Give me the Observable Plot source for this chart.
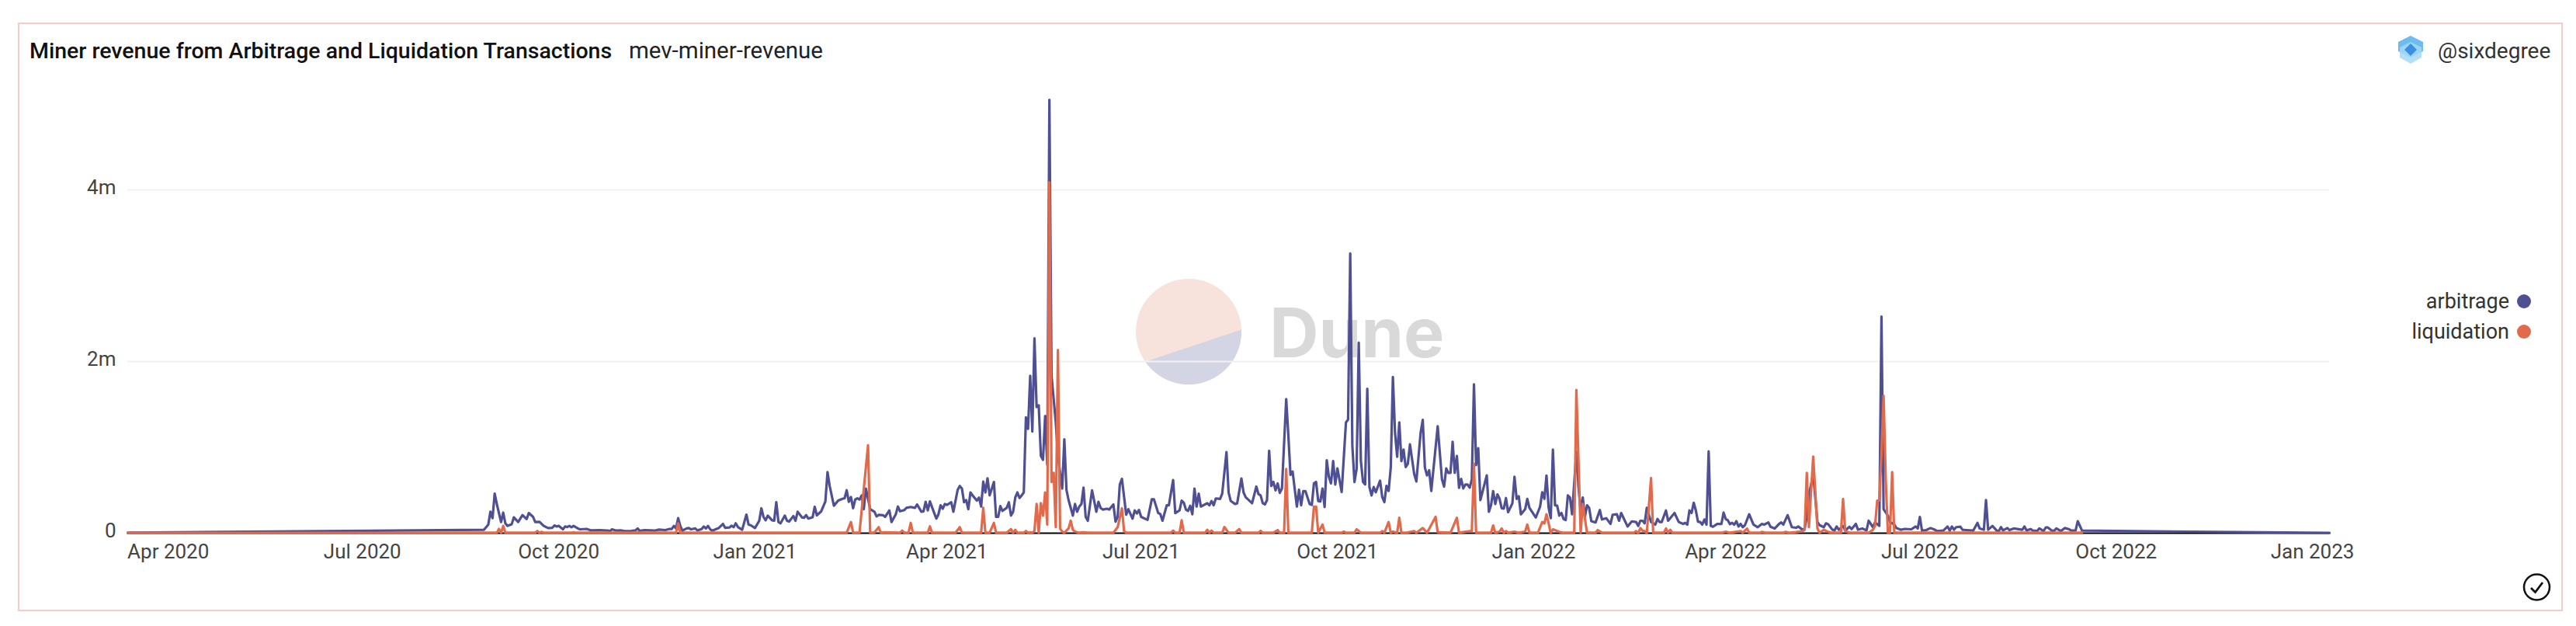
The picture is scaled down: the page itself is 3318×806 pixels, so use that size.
<!DOCTYPE html>
<html>
<head>
<meta charset="utf-8">
<script src="https://cdn.jsdelivr.net/npm/d3@7"></script>
<script src="https://cdn.jsdelivr.net/npm/@observablehq/plot@0.6"></script>
<style>
html,body{margin:0;padding:0;background:#fff;width:3318px;height:806px;overflow:hidden}
body{position:relative;font-family:Roboto,sans-serif}
#frame{position:absolute;left:23px;top:29px;width:3278px;height:758px;border:2.5px solid #f3cdc8;box-sizing:border-box}
#wm{position:absolute;left:0;top:0}
#chart{position:absolute;left:0;top:0}
.t{position:absolute;white-space:nowrap;line-height:1;transform:translateY(-50%)}
</style>
</head>
<body>
<div id="frame"></div>
<svg id="wm" width="3318" height="806">
  <circle cx="1531" cy="427" r="68" fill="#f8e2dc"/>
  <clipPath id="low"><polygon points="1400,491 1600,424 1700,380 1700,560 1400,560"/></clipPath>
  <circle cx="1531" cy="427" r="68" fill="#d3d4e4" clip-path="url(#low)"/>
  <text x="1635" y="460" font-family="Inter" font-weight="700" font-size="88" fill="#d9d9d9">Dune</text>
</svg>
<div id="chart"></div>
<div class="t" id="title" style="left:38px;top:66px;font-size:28.5px;font-weight:500;color:#111"></div>
<div class="t" id="subtitle" style="left:810px;top:66px;font-size:29.5px;color:#222"></div>
<div class="t" id="author" style="left:3140px;top:66px;font-size:28px;color:#333"></div>
<svg style="position:absolute;left:3087px;top:46px" width="36" height="36" viewBox="0 0 36 36">
  <polygon points="18,0 34,8 34,20 18,28 2,20 2,8" fill="#6cbcf0"/>
  <polygon points="18,8 32,15 32,28 18,36 4,28 4,15" fill="#a5d8f7" opacity=".85"/>
  <polygon points="18,10 26,18 18,26 10,18" fill="#3a8fe0"/>
</svg>
<div id="legend"></div>
<svg style="position:absolute;left:3248px;top:737px" width="40" height="40" viewBox="0 0 40 40">
  <circle cx="19.5" cy="19" r="16.5" fill="none" stroke="#111" stroke-width="2.5"/>
  <path d="M12 20 L17.5 25.5 L27 13" fill="none" stroke="#111" stroke-width="2.8"/>
</svg>
<script>
const titleText = "Miner revenue from Arbitrage and Liquidation Transactions";
const subtitleText = "mev-miner-revenue";
const authorText = "@sixdegree";
const seriesNames = ["arbitrage", "liquidation"];
const seriesColors = ["#4e5093", "#e2694a"];
const firstDay = Date.UTC(2020, 3, 1);
const xTickLabels = ["Apr 2020","Jul 2020","Oct 2020","Jan 2021","Apr 2021","Jul 2021","Oct 2021","Jan 2022","Apr 2022","Jul 2022","Oct 2022","Jan 2023"];
const yTicks = [0, 2000000, 4000000];

// [days since 2020-04-01, revenue in thousands]
const arbitrage = [[-19,5],[148,40],[150,100],[151,250],[152,175],[153,460],[154,340],[155,235],[156,130],[157,240],[158,115],[159,85],[161,105],[162,185],[164,130],[166,210],[168,165],[169,235],[171,190],[172,130],[174,133],[176,85],[178,60],[180,63],[181,90],[182,78],[183,85],[185,45],[186,78],[187,72],[188,85],[189,70],[190,85],[192,55],[193,45],[196,50],[198,33],[202,36],[204,33],[206,30],[207,25],[208,45],[210,30],[212,33],[214,25],[217,27],[219,33],[220,55],[221,27],[223,36],[226,33],[228,30],[230,42],[233,36],[235,50],[236,48],[237,85],[238,55],[239,175],[240,85],[241,30],
[243,55],[244,60],[245,45],[247,55],[248,33],[250,48],[251,78],[252,55],[253,85],[254,45],[255,30],[257,50],[258,60],[260,108],[261,63],[263,66],[264,87],[265,70],[266,115],[267,72],[269,40],[271,217],[272,100],[273,93],[275,60],[277,145],[278,290],[279,190],[280,150],[281,205],[283,150],[284,145],[285,362],[286,130],[287,115],[289,205],[290,145],[291,135],[293,200],[294,145],[295,250],[297,185],[298,180],[299,210],[300,170],[302,185],[303,308],[304,208],[306,253],[308,370],[309,712],[310,552],[312,320],[314,380],[316,400],[317,407],[318,500],[319,365],[320,422],[321,290],[322,392],[323,407],[324,392],[325,440],[326,280],[327,520],[329,280],[331,250],[332,195],[333,213],[335,210],[336,190],
[338,265],[339,130],[341,220],[342,310],[343,255],[345,270],[346,295],[348,305],[350,295],[351,335],[353,250],[354,255],[355,365],[356,265],[357,370],[360,170],[361,220],[362,325],[363,285],[364,340],[365,330],[367,360],[368,250],[370,505],[371,550],[372,520],[373,360],[374,385],[375,280],[376,475],[377,440],[379,380],[380,415],[381,310],[382,600],[383,475],[384,640],[385,440],[387,597],[388,190],[389,190],[390,315],[391,260],[393,295],[394,360],[395,205],[396,250],[397,415],[398,475],[399,410],[400,440],[401,475],[402,1350],[403,1215],[404,1835],[405,1185],[406,2270],[407,1470],[408,1490],[409,900],[410,855],[411,1365],[412,800],[413,5050],[414,1835],[416,1290],[417,900],[419,520],[420,1095],[421,505],[422,385],[424,205],[425,340],[426,250],[427,310],[428,340],[429,530],[430,190],
[431,145],[433,500],[435,250],[436,365],[437,295],[438,275],[440,285],[441,275],[443,335],[444,135],[445,190],[446,567],[447,633],[449,215],[450,280],[452,170],[453,265],[454,230],[455,270],[456,190],[459,155],[461,395],[462,395],[464,235],[465,223],[466,145],[468,325],[469,325],[471,620],[472,235],[474,265],[475,380],[476,355],[477,275],[478,260],[479,320],[480,220],[481,520],[482,310],[483,460],[484,310],[487,350],[488,325],[489,375],[490,325],[491,405],[493,400],[494,460],[496,945],[497,475],[498,375],[500,340],[501,347],[503,637],[504,475],[505,420],[508,350],[510,543],[511,455],[512,440],[513,350],[514,335],[515,385],[516,960],[517,550],[518,597],[519,500],[520,580],[521,470],[522,520],[524,1563],[525,1140],
[526,680],[527,718],[529,310],[530,507],[531,325],[532,490],[533,490],[535,340],[536,330],[537,580],[538,597],[539,375],[540,370],[541,520],[542,305],[543,850],[544,658],[545,580],[546,840],[547,567],[548,755],[550,480],[552,1290],[553,1325],[554,3260],[555,1020],[556,597],[557,748],[558,2220],[559,840],[560,597],[561,567],[562,1683],[563,537],[564,440],[565,537],[566,477],[568,612],[569,422],[570,362],[571,552],[572,492],[573,763],[574,1820],[575,1170],[576,890],[577,1290],[578,840],[579,975],[580,770],[581,808],[582,1035],[584,688],[585,603],[587,1170],[588,1320],[589,763],[590,673],[591,733],[592,492],[595,1246],[597,628],[598,543],[599,754],[600,703],[601,703],[602,1065],[603,703],[604,900],[605,528],[606,633],[607,522],[608,567],[609,567],[610,531],[611,628],[612,1735],[613,793],[614,990],[615,386],[618,673],[619,250],
[620,325],[621,490],[622,340],[623,452],[624,400],[625,290],[626,287],[627,410],[628,245],[630,347],[631,658],[632,400],[633,430],[634,220],[636,280],[637,400],[638,295],[641,183],[643,310],[644,477],[645,400],[646,672],[647,295],[648,175],[649,975],[650,325],[651,320],[652,205],[653,235],[654,165],[655,153],[656,440],[657,415],[658,220],[660,950],[661,537],[662,265],[663,416],[664,190],[665,325],[666,295],[667,140],[669,125],[671,270],[672,160],[674,175],[676,108],[677,215],[679,220],[680,145],[681,235],[684,78],[686,138],[688,130],[689,85],[690,145],[691,145],[692,115],[693,295],[695,130],[697,100],[698,165],[699,130],[700,130],[702,265],[703,145],[706,235],[708,130],[710,108],[711,120],[712,100],[713,265],[714,235],[715,355],
[716,265],[717,135],[718,130],[719,100],[720,160],[721,100],[722,953],[723,85],[724,75],[726,108],[728,108],[729,240],[730,165],[731,150],[732,105],[733,120],[734,100],[735,140],[736,78],[737,108],[738,70],[739,93],[741,220],[743,100],[745,70],[747,108],[748,100],[750,125],[751,75],[753,55],[755,108],[756,125],[757,100],[759,210],[761,70],[763,63],[764,78],[766,40],[767,55],[768,190],[769,445],[771,688],[773,130],[774,93],[776,70],[777,115],[778,105],[780,40],[781,33],[782,78],[783,40],[785,85],[786,30],[788,75],[789,48],[791,108],[792,40],[794,55],[796,33],[797,145],[799,70],[800,125],[802,85],[803,2525],[804,280],[806,205],[807,130],[809,100],
[810,60],[812,40],[814,50],[817,45],[819,78],[820,55],[821,190],[822,30],[824,36],[826,60],[828,40],[829,25],[832,30],[834,78],[835,30],[836,78],[837,40],[838,70],[840,75],[841,40],[843,36],[846,30],[848,120],[849,55],[851,40],[852,385],[853,40],[855,85],[857,30],[858,25],[859,70],[860,33],[862,60],[863,36],[865,55],[869,40],[870,78],[871,33],[873,48],[874,30],[876,27],[877,55],[879,25],[880,66],[881,66],[883,27],[884,30],[885,55],[887,25],[889,60],[891,45],[892,30],[894,33],[895,140],[897,30],[1013,3]];

const liquidation = [[-19,3],[147,5],[154,5],[155,50],[156,5],[157,85],[158,5],[172,5],[173,25],[174,5],[175,15],[176,5],[189,5],[190,12],[191,5],[219,5],[220,12],[221,5],[238,5],[239,115],[240,5],[318,5],[320,130],[321,5],[324,5],[328,1025],[329,5],[331,8],[333,70],[334,5],[336,10],[343,5],
[344,30],[345,5],[347,8],[348,120],[349,5],[356,5],[357,80],[358,5],[369,5],[371,70],[372,5],[381,5],[382,295],[383,5],[385,5],[387,120],[388,5],[393,5],[395,48],[396,3],[397,40],[398,5],[401,5],[402,25],[403,5],[404,10],[405,5],[406,25],[407,340],[408,5],[409,350],[410,205],[411,475],[412,100],[413,4090],[414,597],[415,703],[416,70],[417,2136],[418,55],[419,18],[420,5],[422,55],[423,145],[424,40],[425,18],[427,5],[429,10],[431,5],
[443,5],[445,70],[447,290],[448,25],[449,5],[470,5],[471,30],[472,5],[474,5],[475,150],[476,5],[486,5],[487,40],[488,5],[489,30],[490,5],[494,5],[495,72],[497,5],[500,5],[502,48],[503,5],[511,5],[512,27],[513,5],[518,5],[520,36],[521,5],[523,5],[524,748],[525,5],
[536,5],[537,310],[538,310],[539,5],[541,100],[542,5],[550,5],[551,18],[552,5],[556,5],[557,45],[559,5],[568,5],[569,24],[570,5],[572,130],[573,5],[574,18],[576,5],[577,180],[578,5],[580,5],[584,24],[585,5],[588,60],[590,5],[594,190],[595,12],[601,5],[604,180],[605,5],[610,24],[611,24],[612,808],[613,5],[619,5],
[620,5],[621,90],[622,5],[624,18],[625,54],[626,5],[627,24],[628,5],[631,18],[633,5],[636,18],[637,100],[638,5],[642,5],[644,130],[645,115],[646,220],[647,115],[648,0],[649,45],[652,15],[654,5],[659,5],[660,1668],[662,5],[663,340],[665,5],[669,5],[670,36],[672,5],[687,5],[688,24],[689,0],[690,60],[691,30],[692,24],[693,0],[695,642],[696,5],[701,5],[702,54],[703,5],[704,40],[705,5],
[728,5],[730,18],[732,5],[737,24],[738,5],[740,54],[741,5],[746,5],[747,15],[749,5],[757,5],[758,15],[760,5],[763,12],[766,24],[767,40],[768,702],[769,70],[771,893],[773,54],[774,5],[776,40],[778,15],[780,5],[784,5],[785,400],[786,24],[788,5],[797,5],[799,40],[800,85],[801,380],[802,380],[803,930],[804,1600],[805,628],[806,5],[807,5],[808,712],[809,5],[897,5]];

const toDate = d => new Date(firstDay + d * 864e5);
const toRows = (pairs, series) => pairs.map(([d, v]) => ({date: toDate(d), value: v * 1000, series}));
const rows = [...toRows(arbitrage, seriesNames[0]), ...toRows(liquidation, seriesNames[1])];
const xTicks = xTickLabels.map(s => d3.utcParse("%b %Y")(s));

const plot = Plot.plot({
  width: 3318,
  height: 806,
  marginLeft: 164,
  marginRight: 318,
  marginTop: 128,
  marginBottom: 120,
  style: {background: "transparent", maxWidth: "none", fontFamily: "Roboto, sans-serif"},
  x: {type: "utc", domain: [toDate(-19), toDate(1013)]},
  y: {domain: [0, 5050000]},
  color: {domain: seriesNames, range: seriesColors},
  marks: [
    Plot.ruleY(yTicks.slice(1), {stroke: "#f1f1f1", strokeWidth: 2}),
    Plot.ruleY([0], {stroke: "#000", strokeWidth: 2}),
    Plot.axisX({ticks: xTicks, tickFormat: d3.utcFormat("%b %Y"), tickSize: 0, tickPadding: 14, fontSize: 26, fill: "#444", label: null}),
    Plot.axisY({ticks: yTicks, tickFormat: d => d === 0 ? "0" : d / 1e6 + "m", tickSize: 0, tickPadding: 15, fontSize: 26, fill: "#444", dy: -3, label: null}),
    Plot.line(rows, {x: "date", y: "value", z: "series", stroke: "series", strokeWidth: 3.2, strokeLinejoin: "round", curve: "linear"})
  ]
});
document.getElementById("chart").appendChild(plot);

document.getElementById("title").textContent = titleText;
document.getElementById("subtitle").textContent = subtitleText;
document.getElementById("author").textContent = authorText;

const legend = document.getElementById("legend");
const legendRows = [388, 427];
seriesNames.forEach((name, i) => {
  const label = document.createElement("div");
  label.className = "t";
  label.style.cssText = `right:${3318 - 3232}px;top:${legendRows[i]}px;font-size:27px;color:#333`;
  label.textContent = name;
  legend.appendChild(label);
  const dot = document.createElement("div");
  dot.style.cssText = `position:absolute;left:3242px;top:${legendRows[i] - 9}px;width:18px;height:18px;border-radius:50%;background:${seriesColors[i]}`;
  legend.appendChild(dot);
});
</script>
</body>
</html>
